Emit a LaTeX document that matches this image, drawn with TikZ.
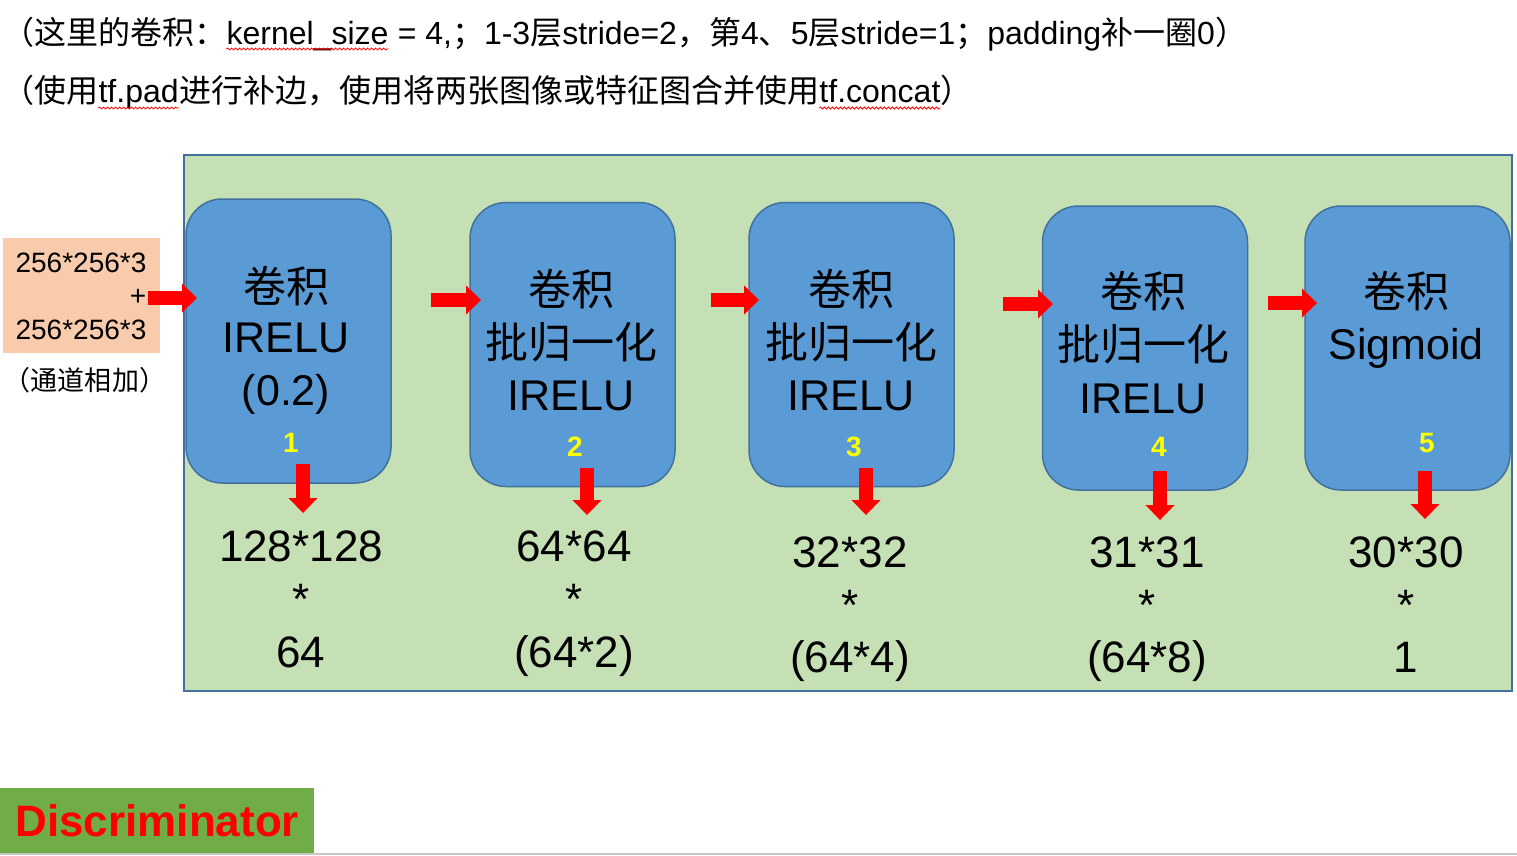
\documentclass[tikz,border=0pt]{standalone}
\usepackage{fontspec}
\setmainfont{Liberation Sans}
\newfontfamily\cjk{Noto Sans CJK SC}
\usetikzlibrary{arrows.meta,decorations.pathmorphing}
\definecolor{bggreen}{HTML}{C5E0B4}
\definecolor{bdblue}{HTML}{41719C}
\definecolor{boxblue}{HTML}{5B9BD5}
\definecolor{peach}{HTML}{F8CBAD}
\definecolor{dgreen}{HTML}{70AD47}
\definecolor{arrred}{HTML}{FF0000}
\definecolor{ylw}{HTML}{FFFF00}
\begin{document}
\begin{tikzpicture}[x=1pt,y=-1pt,
  convbox/.style={draw=bdblue, line width=1.5pt, fill=boxblue, rounded corners=36pt, minimum width=205pt, minimum height=284pt, inner sep=0pt},
  bigtxt/.style={anchor=base, inner sep=0pt, font=\fontsize{43}{52}\selectfont},
  numtxt/.style={inner sep=0pt, text=ylw, font=\bfseries\fontsize{28}{32}\selectfont},
  dimtxt/.style={anchor=base, inner sep=0pt, font=\fontsize{44}{53}\selectfont},
  titletxt/.style={anchor=base west, inner sep=0pt, font=\fontsize{32}{36}\selectfont},
  redarrow/.style={draw=arrred, line width=14pt, -{Triangle[length=15pt,width=29pt,line width=0pt]}},
  wavy/.style={draw=red, line width=0.8pt, decorate, decoration={snake, amplitude=1pt, segment length=4pt}},
]
\useasboundingbox (0,0) rectangle (1517,855);

% titles
\node[titletxt] (t1a) at (2,44) {\cjk （这里的卷积：};
\node[titletxt] (t1b) at (t1a.base east) {kernel\_size};
\node[titletxt] (t1c) at (t1b.base east) {\ = 4,{\cjk ；}1-3{\cjk 层}stride=2{\cjk ，第}4{\cjk 、}5{\cjk 层}stride=1{\cjk ；}padding{\cjk 补一圈}0{\cjk ）}};
\node[titletxt] (t2a) at (2,102) {\cjk （使用};
\node[titletxt] (t2b) at (t2a.base east) {tf.pad};
\node[titletxt] (t2c) at (t2b.base east) {\cjk 进行补边，使用将两张图像或特征图合并使用};
\node[titletxt] (t2d) at (t2c.base east) {tf.concat};
\node[titletxt] (t2e) at (t2d.base east) {\cjk ）};
\draw[wavy] ([yshift=-5pt]t1b.base west) -- ([yshift=-5pt]t1b.base east);
\draw[wavy] ([yshift=-6pt]t2b.base west) -- ([yshift=-6pt]t2b.base east);
\draw[wavy] ([yshift=-6pt]t2d.base west) -- ([yshift=-6pt]t2d.base east);

% bottom gray line
\draw[black!22, line width=2pt] (0,854) -- (1517,854);

% green panel
\node[draw=bdblue, line width=2pt, fill=bggreen, minimum width=1328pt, minimum height=536pt, inner sep=0pt, anchor=north west] (panel) at (183,154) {};

% input box
\node[fill=peach, minimum width=157pt, minimum height=115pt, inner sep=0pt, anchor=north west] (inbox) at (3,238) {};
\node[anchor=base, inner sep=0pt, font=\fontsize{28}{32}\selectfont] (in1) at (81,272) {256*256*3};
\node[inner sep=0pt, font=\fontsize{28}{32}\selectfont] (inplus) at (138,297) {+};
\node[anchor=base, inner sep=0pt, font=\fontsize{28}{32}\selectfont] (in2) at (81,339) {256*256*3};
\node[anchor=base, inner sep=0pt, font=\fontsize{27}{32}\selectfont] (innote) at (85,390) {\cjk （通道相加）};

% conv boxes
\node[convbox] (b1) at (288.5,341) {};
\node[convbox] (b2) at (572.5,344.5) {};
\node[convbox] (b3) at (851.5,344.5) {};
\node[convbox] (b4) at (1145,348) {};
\node[convbox] (b5) at (1407.5,348) {};

% box texts
\node[bigtxt] (b1a) at (286,302) {\cjk 卷积};
\node[bigtxt] (b1b) at (286,352) {IRELU};
\node[bigtxt] (b1c) at (286,405) {(0.2)};
\node[numtxt] (n1) at (291,443) {1};

\node[bigtxt] (b2a) at (571,305) {\cjk 卷积};
\node[bigtxt] (b2b) at (571,358) {\cjk 批归一化};
\node[bigtxt] (b2c) at (571,410) {IRELU};
\node[numtxt] (n2) at (575,447) {2};

\node[bigtxt] (b3a) at (851,305) {\cjk 卷积};
\node[bigtxt] (b3b) at (851,358) {\cjk 批归一化};
\node[bigtxt] (b3c) at (851,410) {IRELU};
\node[numtxt] (n3) at (854,447) {3};

\node[bigtxt] (b4a) at (1143,307) {\cjk 卷积};
\node[bigtxt] (b4b) at (1143,360) {\cjk 批归一化};
\node[bigtxt] (b4c) at (1143,413) {IRELU};
\node[numtxt] (n4) at (1159,447) {4};

\node[bigtxt] (b5a) at (1406,307) {\cjk 卷积};
\node[bigtxt] (b5b) at (1406,359) {Sigmoid};
\node[numtxt] (n5) at (1427,443) {5};

% output dimension texts
\node[dimtxt] (d1a) at (301,561) {128*128};
\node[dimtxt] (d1b) at (301,614) {*};
\node[dimtxt] (d1c) at (301,667) {64};

\node[dimtxt] (d2a) at (574,561) {64*64};
\node[dimtxt] (d2b) at (574,614) {*};
\node[dimtxt] (d2c) at (574,667) {(64*2)};

\node[dimtxt] (d3a) at (850,567) {32*32};
\node[dimtxt] (d3b) at (850,620) {*};
\node[dimtxt] (d3c) at (850,672) {(64*4)};

\node[dimtxt] (d4a) at (1147,567) {31*31};
\node[dimtxt] (d4b) at (1147,620) {*};
\node[dimtxt] (d4c) at (1147,672) {(64*8)};

\node[dimtxt] (d5a) at (1406,567) {30*30};
\node[dimtxt] (d5b) at (1406,620) {*};
\node[dimtxt] (d5c) at (1406,672) {1};

% arrow end points
\coordinate (h1s) at (148,298);  \coordinate (h1e) at (197,298);
\coordinate (h2s) at (431,300);  \coordinate (h2e) at (481,300);
\coordinate (h3s) at (711,300);  \coordinate (h3e) at (759,300);
\coordinate (h4s) at (1003,304); \coordinate (h4e) at (1053,304);
\coordinate (h5s) at (1268,303); \coordinate (h5e) at (1317,303);
\coordinate (v1s) at (303,464);  \coordinate (v1e) at (303,513);
\coordinate (v2s) at (587,468);  \coordinate (v2e) at (587,515);
\coordinate (v3s) at (866,468);  \coordinate (v3e) at (866,515);
\coordinate (v4s) at (1160,471); \coordinate (v4e) at (1160,520);
\coordinate (v5s) at (1425,471); \coordinate (v5e) at (1425,519);

\foreach \i in {1,...,5} {
  \draw[redarrow] (h\i s) -- (h\i e);
  \draw[redarrow] (v\i s) -- (v\i e);
}

% label
\node[fill=dgreen, minimum width=314pt, minimum height=65pt, inner sep=0pt, anchor=north west, text=arrred, font=\bfseries\fontsize{44}{50}\selectfont] (disc) at (0,788) {Discriminator};
\end{tikzpicture}
\end{document}
